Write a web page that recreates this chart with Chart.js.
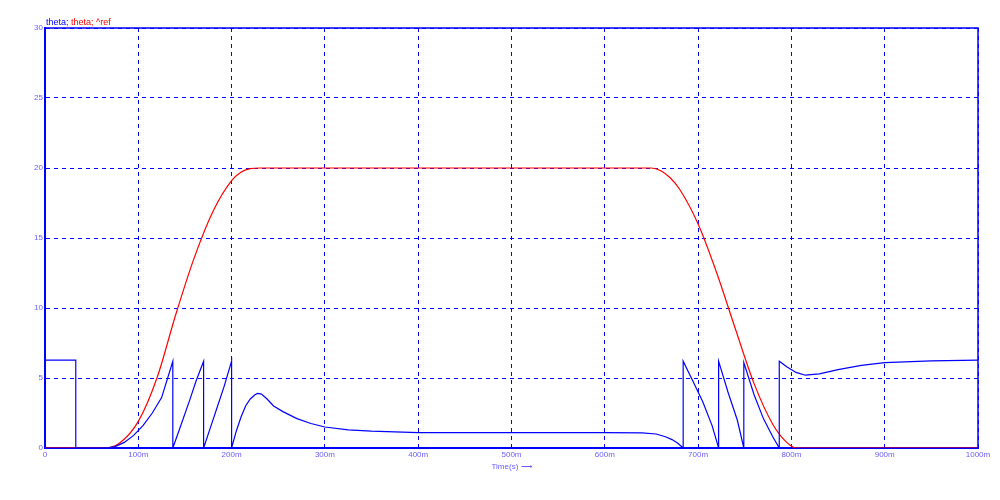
<!DOCTYPE html>
<html>
<head>
<meta charset="utf-8">
<script src="https://cdn.jsdelivr.net/npm/chart.js@4"></script>
<style>
  body { margin: 0; background: #fff; }
  #wrap { position: relative; width: 1000px; height: 500px; }
  #legend { position: absolute; left: 46px; top: 17px; font: 9px "Liberation Sans", sans-serif; }
</style>
</head>
<body>
<div id="wrap">
  <canvas id="c" width="1000" height="500"></canvas>
  <div id="legend"><span style="color:#0000ff">theta; </span><span style="color:#ff0000">theta; ^ref</span></div>
</div>
<script>
// time in ms
const thetaT = [0, 33, 33, 65, 75, 85, 95, 105, 115, 125, 137, 137, 145, 155, 162, 170, 170, 178, 185, 192, 200, 200, 200, 205, 210, 215, 220, 225, 228, 232, 238, 245, 255, 270, 285, 300, 325, 350, 400, 500, 600, 640, 655, 665, 672, 678, 684, 684, 695, 705, 715, 722, 722, 732, 742, 749, 749, 760, 770, 780, 787, 787, 795, 805, 815, 830, 850, 875, 900, 950, 1000];
const thetaV = [6.28, 6.28, 0, 0, 0.1, 0.4, 0.9, 1.6, 2.5, 3.6, 6.2, 0, 1.5, 3.4, 4.8, 6.2, 0, 1.6, 3.0, 4.4, 6.2, 2.7, 0, 1.2, 2.2, 3.0, 3.5, 3.8, 3.9, 3.85, 3.5, 3.0, 2.6, 2.1, 1.75, 1.5, 1.3, 1.2, 1.1, 1.1, 1.1, 1.08, 1.0, 0.8, 0.6, 0.35, 0, 6.2, 4.7, 3.3, 1.6, 0, 6.2, 4.0, 2.0, 0, 6.1, 3.8, 2.1, 0.8, 0, 6.2, 5.8, 5.4, 5.2, 5.3, 5.6, 5.9, 6.1, 6.22, 6.28];
const refT = [0, 65, 80, 100, 120, 140, 160, 180, 200, 210, 220, 230, 650, 660, 670, 680, 700, 720, 740, 760, 780, 795, 805, 1000];
const refV = [0, 0, 0.35, 1.9, 5, 9.5, 13.6, 16.9, 19.1, 19.7, 19.95, 20, 20, 19.8, 19.3, 18.5, 16, 12.5, 8.5, 4.6, 1.7, 0.4, 0, 0];
const xTicks = [0, 100, 200, 300, 400, 500, 600, 700, 800, 900, 1000];

const toPts = (t, v) => t.map((x, i) => ({ x: x, y: v[i] }));
const gridStyle = { color: '#0000ff', lineWidth: 1, tickLength: 0 };

new Chart(document.getElementById('c'), {
  type: 'scatter',
  data: {
    datasets: [
      { label: 'theta', data: toPts(thetaT, thetaV), showLine: true, borderColor: '#0000ff', borderWidth: 1.2, pointRadius: 0, tension: 0 },
      { label: 'theta ref', data: toPts(refT, refV), showLine: true, borderColor: '#ff0000', borderWidth: 1.2, pointRadius: 0, tension: 0.4, cubicInterpolationMode: 'monotone' }
    ]
  },
  options: {
    responsive: false,
    animation: false,
    layout: { padding: { top: 28, right: 22, left: 0, bottom: 0 } },
    plugins: { legend: { display: false }, tooltip: { enabled: false } },
    scales: {
      x: {
        type: 'linear', min: 0, max: 1000,
        afterBuildTicks: s => { s.ticks = xTicks.map(v => ({ value: v })); },
        afterFit: s => { s.height = 52; },
        ticks: { color: '#6a5cff', font: { size: 8, family: 'Liberation Sans' }, padding: 2, maxRotation: 0,
          callback: v => v === 0 ? '0' : v + 'm' },
        grid: gridStyle,
        border: { color: '#0000ff', width: 2, dash: [4, 4] },
        title: { display: true, text: 'Time(s) ⟶', color: '#6a5cff', font: { size: 8, family: 'Liberation Sans' }, padding: { top: 0, bottom: 28 } }
      },
      y: {
        min: 0, max: 30,
        afterFit: s => { s.width = 45; },
        ticks: { stepSize: 5, color: '#6a5cff', font: { size: 8, family: 'Liberation Sans' }, padding: 2 },
        grid: gridStyle,
        border: { color: '#0000ff', width: 2, dash: [4, 4] }
      }
    }
  },
  plugins: [{
    id: 'frame',
    beforeDatasetsDraw(chart) {
      const { ctx, chartArea: a } = chart;
      ctx.save();
      ctx.strokeStyle = '#0000ff';
      ctx.lineWidth = 1.5;
      ctx.strokeRect(a.left, a.top, a.right - a.left, a.bottom - a.top);
      ctx.restore();
    }
  }]
});
</script>
</body>
</html>
